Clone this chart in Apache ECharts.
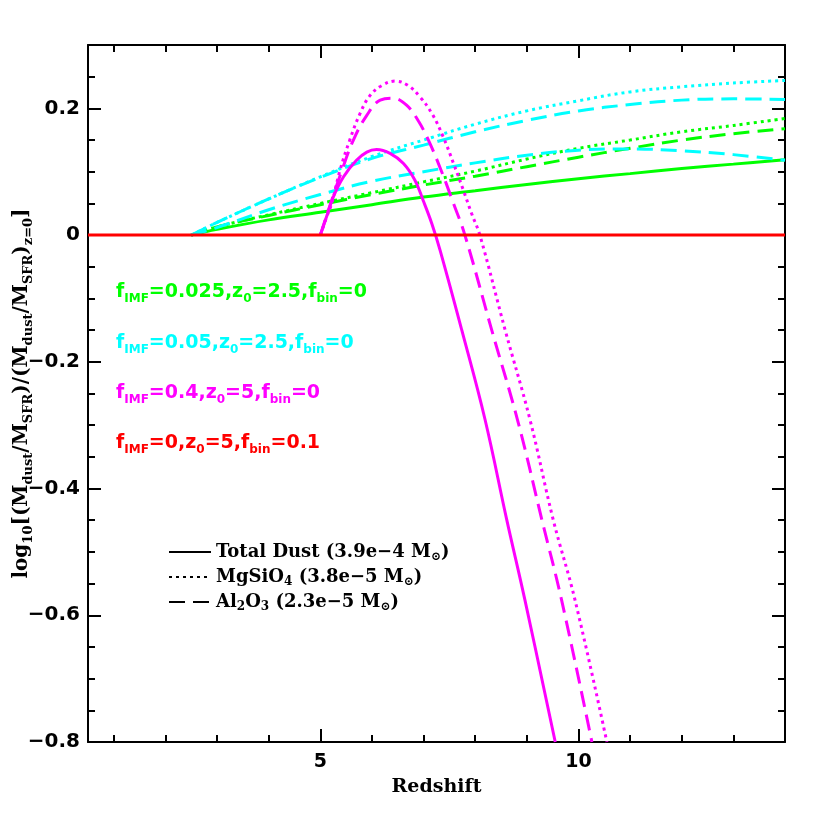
<!DOCTYPE html>
<html>
<head>
<meta charset="utf-8">
<script src="https://cdn.jsdelivr.net/npm/echarts@6.0.0/dist/echarts.min.js"></script>
<style>
  html, body { margin: 0; padding: 0; background: #fff; }
  #chart { width: 830px; height: 830px; }
</style>
</head>
<body>
<div id="chart"></div>
<script>
// redshift grid for the z0 = 2.5 models
const zEarly = [2.5, 3, 4, 5, 6, 7, 8, 9, 10, 11, 12, 13, 14];

// f_IMF=0.025, z0=2.5 (green)
const greenTotal  = [0, 0.009, 0.024, 0.036, 0.048, 0.060, 0.070, 0.080, 0.089, 0.097, 0.105, 0.112, 0.119];
const greenMgSiO4 = [0, 0.013, 0.032, 0.050, 0.067, 0.084, 0.101, 0.120, 0.137, 0.150, 0.163, 0.173, 0.184];
const greenAl2O3  = [0, 0.013, 0.031, 0.048, 0.064, 0.079, 0.093, 0.108, 0.123, 0.137, 0.150, 0.160, 0.168];

// f_IMF=0.05, z0=2.5 (cyan)
const cyanLower   = [0, 0.012, 0.040, 0.064, 0.085, 0.100, 0.114, 0.126, 0.134, 0.136, 0.133, 0.127, 0.118];
const cyanMgSiO4  = [0, 0.020, 0.057, 0.092, 0.124, 0.150, 0.175, 0.196, 0.212, 0.226, 0.234, 0.240, 0.244];
const cyanAl2O3   = [0, 0.020, 0.057, 0.091, 0.121, 0.142, 0.163, 0.181, 0.196, 0.206, 0.213, 0.215, 0.214];

// f_IMF=0.4, z0=5 (magenta)
const zMagTotal = [5.0, 5.12, 5.25, 5.45, 5.70, 5.90, 6.09, 6.35, 6.61, 6.83, 6.99, 7.16, 7.32, 7.74, 8.19, 8.61, 8.96, 9.55];
const magTotal  = [0, 0.029, 0.060, 0.092, 0.118, 0.131, 0.135, 0.129, 0.113, 0.087, 0.055, 0.018, -0.024, -0.150, -0.291, -0.449, -0.575, -0.80];

const zMagAl2O3 = [5.0, 5.2, 5.41, 5.64, 5.90, 6.16, 6.41, 6.67, 6.90, 7.12, 7.35, 7.57, 7.80, 8.32, 8.83, 9.29, 9.67, 10.26];
const magAl2O3  = [0, 0.050, 0.100, 0.150, 0.189, 0.213, 0.216, 0.205, 0.180, 0.145, 0.100, 0.052, 0, -0.150, -0.295, -0.449, -0.575, -0.80];

const zMagMgSiO4 = [5.0, 5.12, 5.22, 5.38, 5.57, 5.77, 5.96, 6.19, 6.45, 6.70, 6.93, 7.16, 7.38, 7.58, 7.77, 7.93, 8.09, 8.58, 9.06, 9.51, 9.93, 10.55];
const magMgSiO4  = [0, 0.028, 0.050, 0.102, 0.150, 0.192, 0.220, 0.236, 0.243, 0.236, 0.218, 0.192, 0.155, 0.113, 0.071, 0.034, 0, -0.150, -0.291, -0.449, -0.575, -0.80];

// f_IMF=0, z0=5, f_bin=0.1 (red)
const zRed = [0.5, 14];
const redTotal = [0, 0];

const xMajorTicks = [5, 10];
const xMinorTicks = [1, 2, 3, 4, 6, 7, 8, 9, 11, 12, 13];

const DASH = [16, 8];
const DOT = [3, 4];
const SANS = 'DejaVu Sans';
const SERIF = 'DejaVu Serif';

function curve(name, xs, ys, color, type, z) {
    return {
        name: name,
        type: 'line',
        data: xs.map((x, i) => [x, ys[i]]),
        symbol: 'none',
        smooth: 0.4,
        silent: true,
        z: z,
        lineStyle: { color: color, width: 3, type: type, cap: 'butt' }
    };
}

function legendEntry(name, type) {
    return {
        name: name,
        type: 'line',
        data: [],
        symbol: 'none',
        itemStyle: { color: 'rgba(0,0,0,0)', borderWidth: 0 },
        lineStyle: { color: '#000', width: 2.5, type: type }
    };
}

function note(text, y, color) {
    return {
        type: 'text',
        x: 116,
        y: y,
        style: {
            text: text,
            fill: color,
            align: 'left',
            verticalAlign: 'middle',
            rich: {
                m: { fontFamily: SANS, fontWeight: 'bold', fontSize: 19, lineHeight: 26, fill: color },
                s: { fontFamily: SANS, fontWeight: 'bold', fontSize: 12, lineHeight: 14, verticalAlign: 'bottom', fill: color }
            }
        }
    };
}

const chart = echarts.init(document.getElementById('chart'));

const axisLineStyle = { color: '#000', width: 2 };
const tickMajor = { show: true, inside: true, length: 13, lineStyle: { color: '#000', width: 2 } };
const tickMinor = { show: true, inside: true, length: 7, lineStyle: { color: '#000', width: 2 } };

function xAxis(position, ticks, len, withLabels, withLine) {
    return {
        type: 'value', min: 0.5, max: 14, position: position,
        axisLine: { show: withLine, onZero: false, lineStyle: axisLineStyle },
        axisTick: Object.assign({}, len === 13 ? tickMajor : tickMinor, { customValues: ticks }),
        axisLabel: withLabels ? {
            show: true, customValues: ticks, margin: 11,
            color: '#000', fontFamily: SANS, fontWeight: 'bold', fontSize: 19
        } : { show: false },
        splitLine: { show: false }
    };
}

function yAxis(position, interval, major, withLabels, withLine) {
    return {
        type: 'value', min: -0.8, max: 0.3, interval: interval, position: position,
        axisLine: { show: withLine, onZero: false, lineStyle: axisLineStyle },
        axisTick: major ? tickMajor : tickMinor,
        axisLabel: withLabels ? {
            show: true, margin: 8, showMaxLabel: false,
            color: '#000', fontFamily: SANS, fontWeight: 'bold', fontSize: 20,
            formatter: v => Math.abs(v) < 1e-9 ? '0' : v.toFixed(1).replace('-', '\u2212')
        } : { show: false },
        splitLine: { show: false }
    };
}

const xs = [
    xAxis('bottom', xMajorTicks, 13, true, true),
    xAxis('bottom', xMinorTicks, 7, false, false),
    xAxis('top', xMajorTicks, 13, false, true),
    xAxis('top', xMinorTicks, 7, false, false)
];
xs[0].name = 'Redshift';
xs[0].nameLocation = 'middle';
xs[0].nameGap = 36;
xs[0].nameMoveOverlap = false;
xs[0].nameTextStyle = { color: '#000', fontFamily: SERIF, fontWeight: 'bold', fontSize: 19 };

const ys = [
    yAxis('left', 0.2, true, true, true),
    yAxis('left', 0.05, false, false, false),
    yAxis('right', 0.2, true, false, true),
    yAxis('right', 0.05, false, false, false)
];
ys[0].name = '{m|log}{s|10}{m|[(M}{s|dust}{m|/M}{s|SFR}{m|)/(M}{s|dust}{m|/M}{s|SFR}{m|)}{s|z=0}{m|]}';
ys[0].nameLocation = 'middle';
ys[0].nameRotate = 90;
ys[0].nameGap = 53;
ys[0].nameMoveOverlap = false;
ys[0].nameTextStyle = {
    color: '#000',
    rich: {
        m: { fontFamily: SERIF, fontWeight: 'bold', fontSize: 20, lineHeight: 27, color: '#000' },
        s: { fontFamily: SERIF, fontWeight: 'bold', fontSize: 13, lineHeight: 15, verticalAlign: 'bottom', color: '#000' }
    }
};

const legendText = {
    'Total Dust': '{m|Total Dust (3.9e\u22124 M}{s|\u2299}{m|)}',
    'MgSiO4': '{m|MgSiO}{s|4}{m| (3.8e\u22125 M}{s|\u2299}{m|)}',
    'Al2O3': '{m|Al}{s|2}{m|O}{s|3}{m| (2.3e\u22125 M}{s|\u2299}{m|)}'
};

chart.setOption({
    animation: false,
    backgroundColor: '#fff',
    grid: { left: 88, right: 45, top: 45, bottom: 88, outerBoundsMode: 'none', containLabel: false },
    xAxis: xs,
    yAxis: ys,
    legend: {
        data: ['Total Dust', 'MgSiO4', 'Al2O3'],
        orient: 'vertical',
        left: 168,
        top: 543,
        padding: 0,
        itemWidth: 42,
        itemHeight: 14,
        itemGap: 5,
        selectedMode: false,
        itemStyle: { opacity: 0 },
        formatter: name => legendText[name],
        textStyle: {
            rich: {
                m: { fontFamily: SERIF, fontWeight: 'bold', fontSize: 18, lineHeight: 22, color: '#000' },
                s: { fontFamily: SERIF, fontWeight: 'bold', fontSize: 12, lineHeight: 12, verticalAlign: 'bottom', color: '#000' }
            }
        }
    },
    graphic: [
        note('{m|f}{s|IMF}{m|=0.025,z}{s|0}{m|=2.5,f}{s|bin}{m|=0}', 292, '#00ff00'),
        note('{m|f}{s|IMF}{m|=0.05,z}{s|0}{m|=2.5,f}{s|bin}{m|=0}', 343, '#00ffff'),
        note('{m|f}{s|IMF}{m|=0.4,z}{s|0}{m|=5,f}{s|bin}{m|=0}', 393, '#ff00ff'),
        note('{m|f}{s|IMF}{m|=0,z}{s|0}{m|=5,f}{s|bin}{m|=0.1}', 443, '#ff0000')
    ],
    series: [
        legendEntry('Total Dust', 'solid'),
        legendEntry('MgSiO4', DOT),
        legendEntry('Al2O3', DASH),
        curve('green total', zEarly, greenTotal, '#00ff00', 'solid', 2),
        curve('green MgSiO4', zEarly, greenMgSiO4, '#00ff00', DOT, 2),
        curve('green Al2O3', zEarly, greenAl2O3, '#00ff00', DASH, 2),
        curve('cyan lower', zEarly, cyanLower, '#00ffff', DASH, 3),
        curve('cyan MgSiO4', zEarly, cyanMgSiO4, '#00ffff', DOT, 3),
        curve('cyan Al2O3', zEarly, cyanAl2O3, '#00ffff', DASH, 3),
        curve('magenta total', zMagTotal, magTotal, '#ff00ff', 'solid', 4),
        curve('magenta MgSiO4', zMagMgSiO4, magMgSiO4, '#ff00ff', DOT, 4),
        curve('magenta Al2O3', zMagAl2O3, magAl2O3, '#ff00ff', DASH, 4),
        curve('red total', zRed, redTotal, '#ff0000', 'solid', 5)
    ]
});
</script>
</body>
</html>
